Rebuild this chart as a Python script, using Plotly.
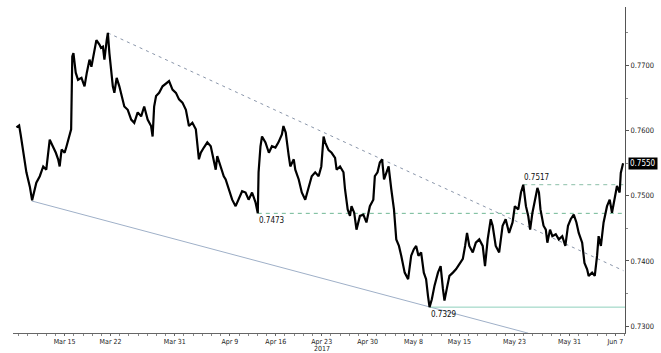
import numpy as np
import pandas as pd
import plotly.graph_objects as go

# ---- data (hourly timestamps, price) ----
times = [
    "2017-03-07 18:00", "2017-03-08 01:00", "2017-03-08 05:00", "2017-03-08 12:00", "2017-03-08 20:00",
    "2017-03-09 05:00", "2017-03-09 11:00", "2017-03-09 22:00", "2017-03-10 07:00", "2017-03-10 16:00",
    "2017-03-13 00:00", "2017-03-13 09:00", "2017-03-13 18:00", "2017-03-14 01:00", "2017-03-14 07:00",
    "2017-03-14 11:00", "2017-03-14 16:00", "2017-03-15 00:00", "2017-03-15 05:00", "2017-03-15 13:00",
    "2017-03-15 17:00", "2017-03-15 20:00", "2017-03-15 23:00", "2017-03-16 05:00", "2017-03-16 11:00",
    "2017-03-16 20:00", "2017-03-17 04:00", "2017-03-17 10:00", "2017-03-17 17:00", "2017-03-17 22:00",
    "2017-03-20 06:00", "2017-03-20 11:00", "2017-03-20 19:00", "2017-03-20 23:00", "2017-03-21 04:00",
    "2017-03-21 08:00", "2017-03-21 14:00", "2017-03-21 17:00", "2017-03-21 21:00", "2017-03-22 02:00",
    "2017-03-22 06:00", "2017-03-22 10:00", "2017-03-22 16:00", "2017-03-22 23:00", "2017-03-23 06:00",
    "2017-03-23 12:00", "2017-03-23 21:00", "2017-03-24 06:00", "2017-03-24 14:00", "2017-03-24 23:00",
    "2017-03-27 08:00", "2017-03-27 16:00", "2017-03-28 01:00", "2017-03-28 10:00", "2017-03-28 14:00",
    "2017-03-28 18:00", "2017-03-28 23:00", "2017-03-29 07:00", "2017-03-29 16:00", "2017-03-30 01:00",
    "2017-03-30 09:00", "2017-03-30 18:00", "2017-03-31 03:00", "2017-03-31 11:00", "2017-03-31 20:00",
    "2017-04-03 05:00", "2017-04-03 13:00", "2017-04-03 22:00", "2017-04-04 07:00", "2017-04-04 15:00",
    "2017-04-04 20:00", "2017-04-05 04:00", "2017-04-05 13:00", "2017-04-05 22:00", "2017-04-06 06:00",
    "2017-04-06 11:00", "2017-04-06 15:00", "2017-04-07 00:00", "2017-04-07 08:00", "2017-04-07 13:00",
    "2017-04-07 21:00", "2017-04-10 06:00", "2017-04-10 15:00", "2017-04-10 23:00", "2017-04-11 08:00",
    "2017-04-11 17:00", "2017-04-12 01:00", "2017-04-12 10:00", "2017-04-12 19:00", "2017-04-13 01:00",
    "2017-04-13 03:00", "2017-04-13 08:00", "2017-04-13 12:00", "2017-04-13 21:00", "2017-04-14 06:00",
    "2017-04-14 14:00", "2017-04-14 23:00", "2017-04-17 07:00", "2017-04-17 16:00", "2017-04-17 20:00",
    "2017-04-18 02:00", "2017-04-18 10:00", "2017-04-18 14:00", "2017-04-18 23:00", "2017-04-19 03:00",
    "2017-04-19 12:00", "2017-04-19 20:00", "2017-04-20 05:00", "2017-04-20 13:00", "2017-04-20 22:00",
    "2017-04-21 07:00", "2017-04-21 16:00", "2017-04-21 23:00", "2017-04-24 05:00", "2017-04-24 09:00",
    "2017-04-24 18:00", "2017-04-25 02:00", "2017-04-25 11:00", "2017-04-25 15:00", "2017-04-26 00:00",
    "2017-04-26 09:00", "2017-04-26 13:00", "2017-04-26 20:00", "2017-04-27 02:00", "2017-04-27 06:00",
    "2017-04-27 13:00", "2017-04-27 19:00", "2017-04-28 04:00", "2017-04-28 13:00", "2017-04-28 21:00",
    "2017-05-01 06:00", "2017-05-01 15:00", "2017-05-01 19:00", "2017-05-02 02:00", "2017-05-02 08:00",
    "2017-05-02 14:00", "2017-05-02 19:00", "2017-05-03 01:00", "2017-05-03 07:00", "2017-05-03 14:00",
    "2017-05-03 21:00", "2017-05-04 03:00", "2017-05-04 10:00", "2017-05-04 16:00", "2017-05-05 01:00",
    "2017-05-05 10:00", "2017-05-05 18:00", "2017-05-08 01:00", "2017-05-08 07:00", "2017-05-08 13:00",
    "2017-05-08 20:00", "2017-05-09 03:00", "2017-05-09 09:00", "2017-05-09 14:00", "2017-05-09 18:00",
    "2017-05-10 00:00", "2017-05-10 07:00", "2017-05-10 16:00", "2017-05-10 23:00", "2017-05-11 05:00",
    "2017-05-11 09:00", "2017-05-11 15:00", "2017-05-11 22:00", "2017-05-12 07:00", "2017-05-12 15:00",
    "2017-05-15 00:00", "2017-05-15 09:00", "2017-05-15 15:00", "2017-05-15 20:00", "2017-05-16 02:00",
    "2017-05-16 11:00", "2017-05-16 19:00", "2017-05-17 04:00", "2017-05-17 13:00", "2017-05-17 19:00",
    "2017-05-18 02:00", "2017-05-18 10:00", "2017-05-18 15:00", "2017-05-18 23:00", "2017-05-19 08:00",
    "2017-05-19 17:00", "2017-05-22 01:00", "2017-05-22 10:00", "2017-05-22 19:00", "2017-05-23 01:00",
    "2017-05-23 10:00", "2017-05-23 17:00", "2017-05-23 23:00", "2017-05-24 06:00", "2017-05-24 12:00",
    "2017-05-24 17:00", "2017-05-24 23:00", "2017-05-25 07:00", "2017-05-25 12:00", "2017-05-25 16:00",
    "2017-05-25 20:00", "2017-05-26 04:00", "2017-05-26 10:00", "2017-05-26 14:00", "2017-05-26 21:00",
    "2017-05-29 03:00", "2017-05-29 12:00", "2017-05-29 20:00", "2017-05-30 05:00", "2017-05-30 13:00",
    "2017-05-30 20:00", "2017-05-31 03:00", "2017-05-31 11:00", "2017-05-31 18:00", "2017-06-01 00:00",
    "2017-06-01 09:00", "2017-06-01 15:00", "2017-06-01 22:00", "2017-06-02 02:00", "2017-06-02 11:00",
    "2017-06-02 18:00", "2017-06-05 00:00", "2017-06-05 04:00", "2017-06-05 10:00", "2017-06-05 17:00",
    "2017-06-06 02:00", "2017-06-06 09:00", "2017-06-06 15:00", "2017-06-06 21:00", "2017-06-07 04:00",
    "2017-06-07 11:00", "2017-06-07 14:00", "2017-06-07 20:00",
]
prices = [
    0.7605, 0.7608, 0.7594, 0.7566, 0.7536,
    0.7514, 0.7493, 0.7520, 0.7530, 0.7545,
    0.7540, 0.7586, 0.7576, 0.7566, 0.7556,
    0.7545, 0.7571, 0.7566, 0.7576, 0.7594,
    0.7602, 0.7714, 0.7719, 0.7689, 0.7678,
    0.7681, 0.7668, 0.7689, 0.7709, 0.7698,
    0.7724, 0.7739, 0.7732, 0.7727, 0.7729,
    0.7709, 0.7739, 0.7750, 0.7719, 0.7693,
    0.7668, 0.7658, 0.7681, 0.7668, 0.7653,
    0.7637, 0.7632, 0.7617, 0.7612, 0.7628,
    0.7622, 0.7637, 0.7617, 0.7607, 0.7591,
    0.7637, 0.7653, 0.7658, 0.7668, 0.7673,
    0.7676, 0.7663, 0.7658, 0.7648, 0.7643,
    0.7632, 0.7607, 0.7612, 0.7602, 0.7556,
    0.7566, 0.7574, 0.7582, 0.7576, 0.7556,
    0.7540, 0.7561, 0.7545, 0.7530, 0.7525,
    0.7510, 0.7494, 0.7484, 0.7494, 0.7507,
    0.7505, 0.7494, 0.7505, 0.7490, 0.7473,
    0.7536, 0.7576, 0.7591, 0.7582, 0.7566,
    0.7576, 0.7574, 0.7582, 0.7594, 0.7607,
    0.7597, 0.7561, 0.7545, 0.7556, 0.7540,
    0.7525, 0.7505, 0.7494, 0.7510, 0.7530,
    0.7536, 0.7530, 0.7545, 0.7591, 0.7582,
    0.7570, 0.7566, 0.7558, 0.7540, 0.7545,
    0.7536, 0.7510, 0.7479, 0.7469, 0.7484,
    0.7474, 0.7448, 0.7469, 0.7471, 0.7459,
    0.7484, 0.7494, 0.7530, 0.7536, 0.7551,
    0.7556, 0.7525, 0.7536, 0.7545, 0.7510,
    0.7479, 0.7433, 0.7423, 0.7408, 0.7382,
    0.7372, 0.7408, 0.7418, 0.7423, 0.7408,
    0.7413, 0.7382, 0.7372, 0.7346, 0.7329,
    0.7341, 0.7362, 0.7382, 0.7392, 0.7357,
    0.7339, 0.7357, 0.7377, 0.7382, 0.7387,
    0.7395, 0.7403, 0.7423, 0.7443, 0.7423,
    0.7413, 0.7428, 0.7433, 0.7423, 0.7392,
    0.7433, 0.7464, 0.7454, 0.7423, 0.7413,
    0.7454, 0.7464, 0.7443, 0.7459, 0.7484,
    0.7479, 0.7505, 0.7517, 0.7484, 0.7469,
    0.7448, 0.7474, 0.7500, 0.7512, 0.7505,
    0.7479, 0.7454, 0.7448, 0.7428, 0.7448,
    0.7438, 0.7441, 0.7433, 0.7438, 0.7423,
    0.7454, 0.7464, 0.7471, 0.7459, 0.7443,
    0.7428, 0.7397, 0.7387, 0.7377, 0.7382,
    0.7377, 0.7408, 0.7438, 0.7423, 0.7459,
    0.7484, 0.7494, 0.7474, 0.7494, 0.7515,
    0.7505, 0.7535, 0.7550,
]

# trendlines (endpoints) and horizontal levels
upper_trend_t = ["2017-03-21 17:00", "2017-06-07 21:00"]
upper_trend_v = [0.7750, 0.7385]
lower_trend_t = ["2017-03-09 10:00", "2017-05-24 12:00"]
lower_trend_v = [0.7492, 0.7289]
levels = [
    {"start": "2017-04-13 01:00", "value": 0.7473, "label": "0.7473", "dash": "dash", "color": "#6fb894", "pos": "below"},
    {"start": "2017-05-23 23:00", "value": 0.7517, "label": "0.7517", "dash": "dash", "color": "#8cbfa8", "pos": "above"},
    {"start": "2017-05-09 18:00", "value": 0.7329, "label": "0.7329", "dash": "solid", "color": "#8fd0bd", "pos": "below"},
]
last_price = 0.7550

tick_dates = ["2017-03-15", "2017-03-22", "2017-03-31", "2017-04-09", "2017-04-16", "2017-04-23",
              "2017-04-30", "2017-05-08", "2017-05-15", "2017-05-23", "2017-05-31", "2017-06-07"]
tick_text = ["Mar 15", "Mar 22", "Mar 31", "Apr 9", "Apr 16", "Apr 23",
             "Apr 30", "May 8", "May 15", "May 23", "May 31", "Jun 7"]
year_label = "2017"
year_label_date = "2017-04-23"

x_start = "2017-03-07 09:00"
x_end = "2017-06-08 01:00"
y_range = [0.72893, 0.77898]

BASE = np.datetime64("2017-03-15")


def tpos(ts):
    """Trading-time axis: business days since base (weekends removed) + fraction of day."""
    t = pd.Timestamp(ts)
    day = t.normalize()
    n = np.busday_count(BASE, np.datetime64(day.date()))
    return float(n) + (t - day) / pd.Timedelta(days=1)


xs = [tpos(t) for t in times]
x0, x1 = tpos(x_start), tpos(x_end)

FONT = "Liberation Sans Narrow, DejaVu Sans Condensed, Liberation Sans, Arial"

fig = go.Figure()

# lower trendline (solid)
fig.add_trace(go.Scatter(x=[tpos(t) for t in lower_trend_t], y=lower_trend_v, mode="lines",
                         line=dict(color="#9fb0c8", width=1), hoverinfo="skip", showlegend=False))
# upper trendline (dotted)
fig.add_trace(go.Scatter(x=[tpos(t) for t in upper_trend_t], y=upper_trend_v, mode="lines",
                         line=dict(color="#8a96aa", width=1, dash="3px,4px"), hoverinfo="skip", showlegend=False))

for lv in levels:
    fig.add_trace(go.Scatter(x=[tpos(lv["start"]), x1], y=[lv["value"], lv["value"]], mode="lines",
                             line=dict(color=lv["color"], width=1,
                                       dash="4px,4px" if lv["dash"] == "dash" else "solid"),
                             hoverinfo="skip", showlegend=False))
    fig.add_annotation(x=tpos(lv["start"]), y=lv["value"], text=lv["label"], showarrow=False,
                       xanchor="left", yanchor="top" if lv["pos"] == "below" else "bottom",
                       xshift=-1, yshift=-1 if lv["pos"] == "below" else 1,
                       font=dict(family=FONT, size=8, color="#111"))

# price line
fig.add_trace(go.Scatter(x=xs, y=prices, mode="lines",
                         line=dict(color="#000000", width=2.2), showlegend=False))

# last price tag
fig.add_annotation(x=1, xref="paper", y=last_price, yref="y", text="0.7550", showarrow=False,
                   xanchor="left", yanchor="middle", xshift=3, bgcolor="#000000",
                   font=dict(family=FONT, size=8, color="#ffffff"), borderpad=1)

# year label
fig.add_annotation(x=tpos(year_label_date), xref="x", y=0, yref="paper", text=year_label,
                   showarrow=False, yanchor="top", yshift=-11, borderpad=0,
                   font=dict(family=FONT, size=7, color="#222"))

fig.update_layout(
    width=661, height=353,
    margin=dict(l=13, r=33, t=7, b=19),
    paper_bgcolor="#ffffff", plot_bgcolor="#ffffff",
    showlegend=False,
)
fig.update_xaxes(
    range=[x0, x1], showgrid=False, zeroline=False,
    showline=True, linecolor="#666", linewidth=1,
    tickmode="array", tickvals=[tpos(d) for d in tick_dates], ticktext=tick_text,
    ticks="outside", ticklen=2, tickcolor="#666", ticklabelstandoff=0,
    tickfont=dict(family=FONT, size=7, color="#222"),
    minor=dict(dtick=1, tick0=0, ticks="outside", ticklen=2, tickcolor="#888"),
)
fig.update_yaxes(
    range=y_range, side="right", showgrid=False, zeroline=False,
    showline=True, linecolor="#555", linewidth=1,
    tickmode="linear", tick0=0.73, dtick=0.01, tickformat=".4f",
    ticks="outside", ticklen=3, tickcolor="#555",
    tickfont=dict(family=FONT, size=7.5, color="#222"),
    minor=dict(dtick=0.005, tick0=0.73, ticks="outside", ticklen=2, tickcolor="#888"),
)

fig.write_html("out.html")
